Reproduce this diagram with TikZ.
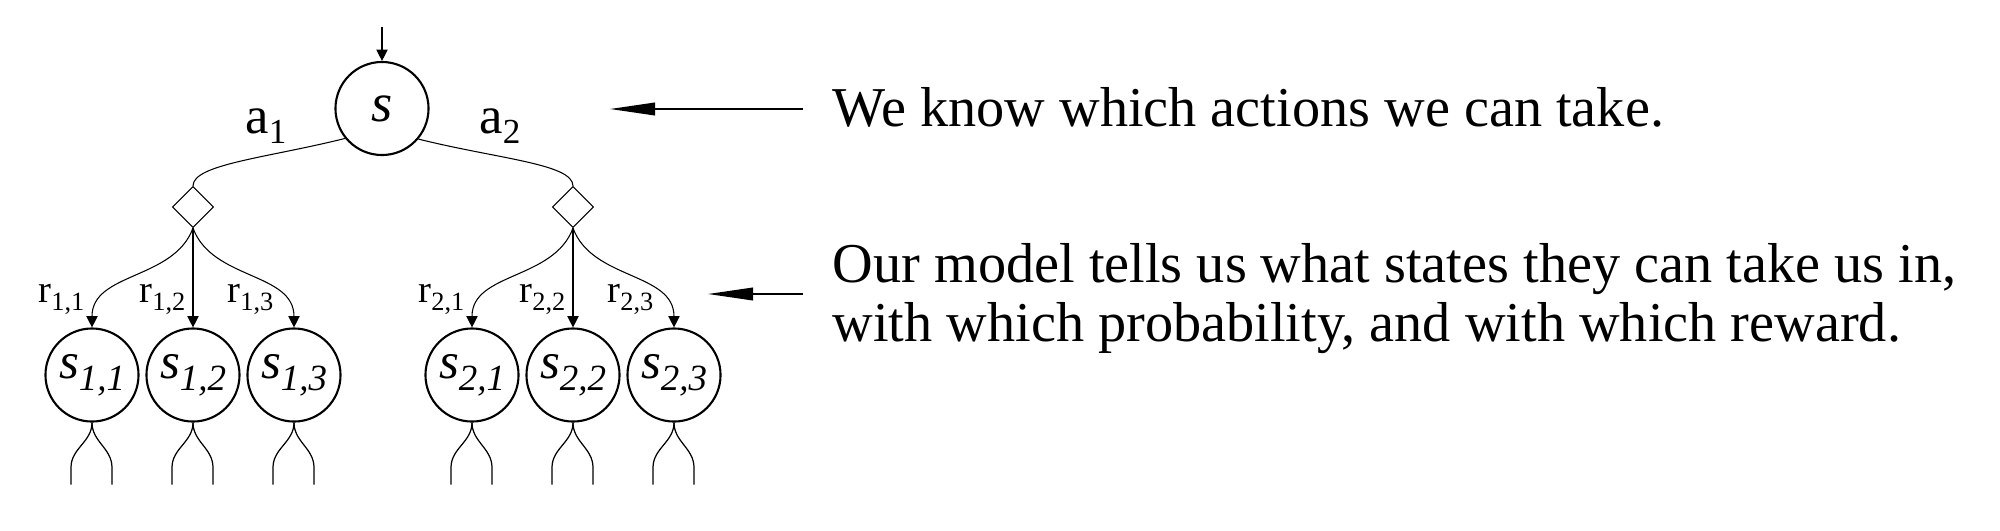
\documentclass[tikz,border=0pt]{standalone}
\usepackage{fontspec}
\setmainfont{Liberation Serif}
\usetikzlibrary{arrows.meta, shapes.geometric}

\newcommand{\actlab}[1]{a\raisebox{-3pt}{\fontsize{10}{10}\selectfont #1}}
\newcommand{\rewlab}[1]{r\raisebox{-2.2pt}{\fontsize{7.5}{7.5}\selectfont #1}}
\newcommand{\statelab}[1]{\textit{s}\raisebox{-3.4pt}{\fontsize{10.5}{10.5}\selectfont\itshape #1}}

\begin{document}
\begin{tikzpicture}[x=0.01cm, y=-0.01cm,
    state/.style={circle, draw, line width=0.6pt, minimum size=0.93cm, inner sep=0pt,
      font=\fontsize{14.5}{14.5}\selectfont},
    rootstate/.style={state, font=\fontsize{15.5}{15.5}\selectfont},
    chance/.style={diamond, draw, line width=0.3pt, minimum size=0.41cm, inner sep=0pt},
    treeline/.style={line width=0.3pt},
    treearrow/.style={treeline, -{Triangle[length=3.2pt, width=3.2pt]}},
    stub/.style={line width=0.35pt},
    pointer/.style={line width=0.45pt, -{Triangle[length=12.8pt, width=3.6pt]}},
    actlabel/.style={inner sep=0pt, font=\fontsize{15}{15}\selectfont},
    rewlabel/.style={inner sep=0pt, font=\fontsize{11}{11}\selectfont},
    note/.style={inner sep=0pt, font=\fontsize{16}{17}\selectfont}]
  \useasboundingbox (0,0) rectangle (2000,530);
  % root state and its actions
  \node[rootstate] (s) at (382,108.5) {\textit{s}};
  \coordinate (in) at (382,27);
  \draw[treearrow] (in) -- (s);
  \node[chance] (d1) at (193,207) {};
  \node[chance] (d2) at (573,207) {};
  \draw[treeline] (s.219.5) to[out=194, in=90, out looseness=1.3, in looseness=0.35] (d1.north);
  \draw[treeline] (s.320.5) to[out=-14, in=90, out looseness=1.3, in looseness=0.35] (d2.north);
  \node[actlabel, anchor=base] (a1) at (266,133) {\actlab{1}};
  \node[actlabel, anchor=base] (a2) at (500,133) {\actlab{2}};
  % successor states
  \foreach \i in {1,2} {
    \foreach \j/\dx/\ang/\gap in {1/-101/250/7, 2/0/270/7, 3/101/290/20} {
      \node[state] (s\i\j) at ([shift={(\dx,168)}]d\i.center) {\statelab{\i,\j}};
      \draw[treearrow] (d\i.south) to[out=\ang, in=90] (s\i\j.north);
      \node[rewlabel, anchor=base east] (r\i\j) at ([shift={(-\gap,-25)}]s\i\j.north) {\rewlab{\i,\j}};
      \coordinate (l\i\j) at ([shift={(-21,62)}]s\i\j.south);
      \coordinate (m\i\j) at ([shift={(20,62)}]s\i\j.south);
      \draw[stub] (s\i\j.south) to[out=-90, in=90] ([shift={(0,-17)}]l\i\j) -- (l\i\j);
      \draw[stub] (s\i\j.south) to[out=-90, in=90] ([shift={(0,-17)}]m\i\j) -- (m\i\j);
    }
  }
  % explanations
  \node[note, anchor=base west] (t1) at (832,126) {We know which actions we can take.};
  \node[note, anchor=base west] (t2) at (832,282) {Our model tells us what states they can take us in,};
  \node[note, anchor=base west] (t3) at (832,341) {with which probability, and with which reward.};
  \coordinate (p1) at (610,109);
  \coordinate (p2) at (708,294);
  \draw[pointer] (t1.west |- p1) ++(-29,0) -- (p1);
  \draw[pointer] (t2.west |- p2) ++(-29,0) -- (p2);
\end{tikzpicture}
\end{document}
